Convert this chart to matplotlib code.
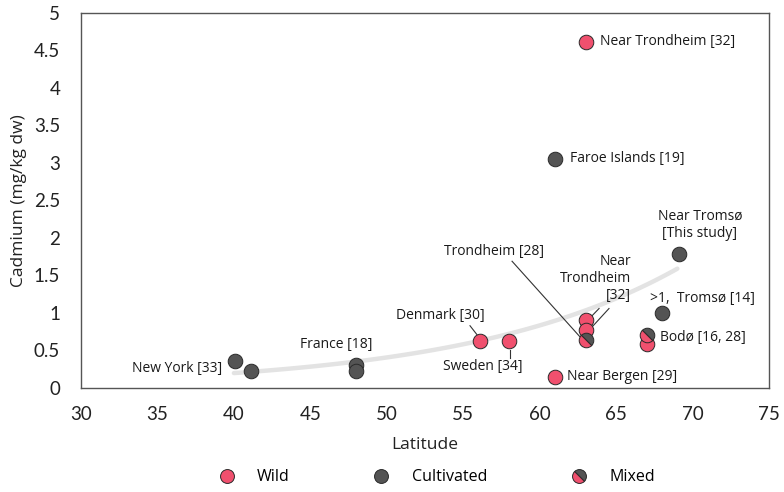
import numpy as np
import matplotlib.pyplot as plt
from matplotlib.markers import MarkerStyle
from matplotlib.transforms import Affine2D
from matplotlib.lines import Line2D

# wild samples
wild_lat = [63.0, 63.0, 63.0, 56.1, 58.0, 61.0, 67.0]
wild_cd = [4.61, 0.91, 0.77, 0.63, 0.62, 0.15, 0.58]

# cultivated samples
cult_lat = [61.0, 69.1, 68.0, 40.1, 41.1, 48.0, 48.0]
cult_cd = [3.05, 1.78, 1.00, 0.36, 0.22, 0.31, 0.23]

# mixed samples
mixed_lat = [63.0, 67.0]
mixed_cd = [0.64, 0.71]

# exponential trendline  y = a * exp(b * x)
trend_a = 0.0113
trend_b = 0.0717
trend_range = [40.0, 69.0]

wild_color = '#f0506e'
cult_color = '#545454'
edge_color = '#2a2a2a'

plt.rcParams['font.family'] = ['Open Sans', 'DejaVu Sans']

fig = plt.figure(figsize=(7.84, 4.92), dpi=100)
ax = fig.add_axes([0.1033, 0.2114, 0.8777, 0.7622])

tx = np.linspace(trend_range[0], trend_range[1], 100)
ax.plot(tx, trend_a * np.exp(trend_b * tx), color='#e3e3e3', lw=3.2,
        solid_capstyle='round', zorder=1)

ax.scatter(wild_lat, wild_cd, s=110, color=wild_color, edgecolor=edge_color,
           linewidth=0.7, zorder=3)
ax.scatter(cult_lat, cult_cd, s=110, color=cult_color, edgecolor=edge_color,
           linewidth=0.7, zorder=3)
mixed_marker = MarkerStyle('o', fillstyle='top',
                           transform=Affine2D().rotate_deg(-45))
ax.plot(mixed_lat, mixed_cd, ls='none', marker=mixed_marker, ms=10.5,
        markerfacecolor=cult_color, markerfacecoloralt=wild_color,
        markeredgecolor=edge_color, markeredgewidth=0.7, zorder=4)

# annotations
fs = 10
tc = '#1a1a1a'
ax.text(63.94, 4.62, 'Near Trondheim [32]', fontsize=fs, color=tc, va='center')
ax.text(61.98, 3.06, 'Faroe Islands [19]', fontsize=fs, color=tc, va='center')
ax.text(70.48, 2.18, 'Near Tromsø\n[This study]', fontsize=fs, color=tc,
        ha='center', va='center', linespacing=1.2)
ax.text(57.0, 1.82, 'Trondheim [28]', fontsize=fs, color=tc,
        ha='center', va='center')
ax.text(65.97, 1.46, 'Near\nTrondheim\n[32]', fontsize=fs, color=tc,
        ha='right', va='center', multialignment='right', linespacing=1.15)
ax.text(67.21, 1.19, '>1,  Tromsø [14]', fontsize=fs, color=tc, va='center')
ax.text(67.87, 0.67, 'Bodø [16, 28]', fontsize=fs, color=tc, va='center')
ax.text(56.42, 0.965, 'Denmark [30]', fontsize=fs, color=tc,
        ha='right', va='center')
ax.text(56.29, 0.28, 'Sweden [34]', fontsize=fs, color=tc,
        ha='center', va='center')
ax.text(61.79, 0.15, 'Near Bergen [29]', fontsize=fs, color=tc, va='center')
ax.text(39.22, 0.255, 'New York [33]', fontsize=fs, color=tc,
        ha='right', va='center')
ax.text(46.68, 0.58, 'France [18]', fontsize=fs, color=tc,
        ha='center', va='center')

# leader lines
leaders = [
    ([58.19, 62.64], [1.69, 0.68]),
    ([63.88, 63.36], [1.06, 0.95]),
    ([64.53, 63.36], [1.06, 0.80]),
    ([55.44, 55.90], [0.83, 0.71]),
    ([58.06, 58.06], [0.51, 0.40]),
]
for lx, ly in leaders:
    ax.plot(lx, ly, color='#333333', lw=0.8, zorder=2)

ax.set_xlim(30, 75)
ax.set_ylim(0, 5)
ax.set_xticks(np.arange(30, 76, 5))
ax.set_yticks(np.arange(0, 5.01, 0.5))
ax.set_yticklabels(['0', '0.5', '1', '1.5', '2', '2.5', '3', '3.5', '4', '4.5', '5'])
ax.tick_params(length=0, labelsize=13.5, colors='#222222')
ax.tick_params(axis='x', pad=13)
ax.tick_params(axis='y', pad=15)
for lab in ax.get_xticklabels() + ax.get_yticklabels():
    lab.set_family(['Lato', 'DejaVu Sans'])
for sp in ax.spines.values():
    sp.set_color('#555555')
    sp.set_linewidth(1.0)

ax.set_xlabel('Latitude', fontsize=12.5, color='#222222', labelpad=10)
ax.set_ylabel('Cadmium (mg/kg dw)', fontsize=12.5, color='#222222', labelpad=5)

handles = [
    Line2D([], [], ls='none', marker='o', ms=10, markerfacecolor=wild_color,
           markeredgecolor=edge_color, markeredgewidth=0.7),
    Line2D([], [], ls='none', marker='o', ms=10, markerfacecolor=cult_color,
           markeredgecolor=edge_color, markeredgewidth=0.7),
    Line2D([], [], ls='none', marker=mixed_marker, ms=10,
           markerfacecolor=cult_color, markerfacecoloralt=wild_color,
           markeredgecolor=edge_color, markeredgewidth=0.7),
]
fig.legend(handles, ['Wild', 'Cultivated', 'Mixed'], loc='center',
           bbox_to_anchor=(0.552, 0.03), ncol=3, frameon=False,
           fontsize=11.5, columnspacing=4.75, handletextpad=0.9)

fig.savefig('out.png', dpi=100)
